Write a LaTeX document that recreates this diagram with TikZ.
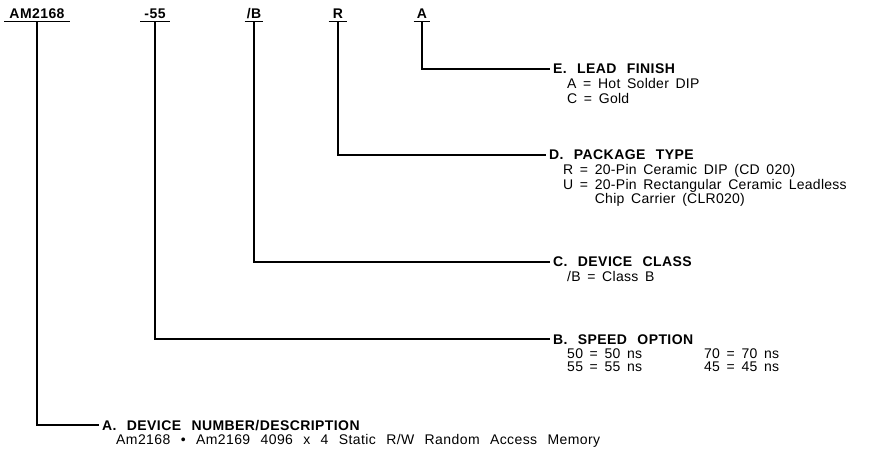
\documentclass[tikz,border=0pt]{standalone}
\usepackage{fontspec}
\setmainfont{Liberation Sans}
\newfontfamily\headfont[LetterSpace=3,WordSpace=1.8]{Liberation Sans}
\newfontfamily\bodyfont[LetterSpace=2,WordSpace=1.6]{Liberation Sans}
\newfontfamily\descfont[LetterSpace=3,WordSpace=2.4]{Liberation Sans}
\usetikzlibrary{positioning}

\begin{document}
\begin{tikzpicture}
  [x=1pt,y=-1pt,
   code/.style={font=\headfont\bfseries\fontsize{14}{16}\selectfont, inner sep=0pt,
     text height=10pt, text depth=0pt, anchor=base},
   head/.style={font=\headfont\bfseries\fontsize{14}{16}\selectfont, inner sep=0pt,
     text height=10pt, text depth=0pt, anchor=west},
   body/.style={font=\bodyfont\fontsize{14}{14.5}\selectfont, inner sep=0pt,
     align=left, anchor=north west, below right=4pt and 14pt of #1.south west},
   lead/.style={line width=1.3pt}]
  \useasboundingbox (0,0) rectangle (884,449);

  % part number fields
  \node[code] (am) at (37,19)  {AM2168};
  \node[code] (sp) at (155,19) {-55};
  \node[code] (cl) at (254,19) {/B};
  \node[code] (pk) at (338,19) {R};
  \node[code] (lf) at (422,19) {A};
  \foreach \n/\w in {am/5, sp/4, cl/2, pk/4, lf/3}
    \draw[lead] ([xshift=-\w pt, yshift=-2pt]\n.south west)
      -- ([xshift=\w pt, yshift=-2pt]\n.south east);

  % headings
  \node[head] (hE) at (553,69)  {E. LEAD FINISH};
  \node[head] (hD) at (549,155) {D. PACKAGE TYPE};
  \node[head] (hC) at (553,262) {C. DEVICE CLASS};
  \node[head] (hB) at (553,339) {B. SPEED OPTION};
  \node[head] (hA) at (102,425) {A. DEVICE NUMBER/DESCRIPTION};

  % leader lines
  \draw[lead] ([yshift=-2pt]am.south) |- ([xshift=-3pt]hA.west);
  \draw[lead] ([yshift=-2pt]sp.south) |- ([xshift=-3pt]hB.west);
  \draw[lead] ([yshift=-2pt]cl.south) |- ([xshift=-3pt]hC.west);
  \draw[lead] ([yshift=-2pt]pk.south) |- ([xshift=-3pt]hD.west);
  \draw[lead] ([yshift=-2pt]lf.south) |- ([xshift=-3pt]hE.west);

  % option lists
  \node[body=hE] (bE) {A = Hot Solder DIP\\C = Gold};
  \node[body=hD] (bD) {R = 20-Pin Ceramic DIP (CD 020)\\
    U = 20-Pin Rectangular Ceramic Leadless\\
    \hphantom{U = }Chip Carrier (CLR020)};
  \node[body=hC] (bC) {/B = Class B};
  \node[body=hB] (bB) {\begin{tabular}{@{}l@{\hspace{62pt}}l@{}}
    50 = 50 ns & 70 = 70 ns\\[-1.5pt]
    55 = 55 ns & 45 = 45 ns
  \end{tabular}};
  \node[body=hA, font=\descfont\fontsize{14}{14.5}\selectfont] (bA)
    {Am2168 \textbullet\ Am2169 4096 x 4 Static R/W Random Access Memory};
\end{tikzpicture}
\end{document}
